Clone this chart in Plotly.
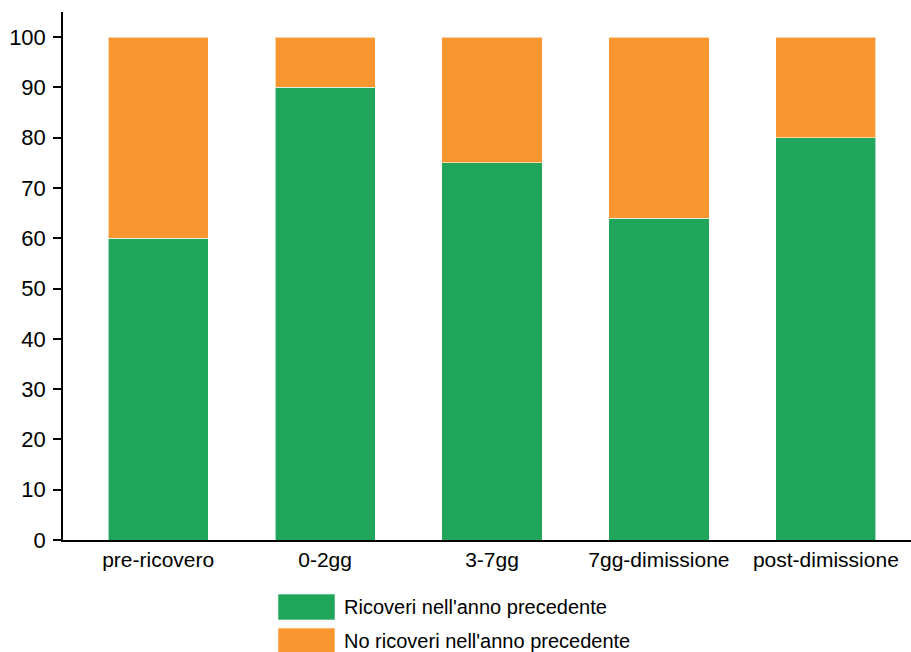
import plotly.graph_objects as go

categories = ["pre-ricovero", "0-2gg", "3-7gg", "7gg-dimissione", "post-dimissione"]
ricoveri = [60, 90, 75, 64, 80]
no_ricoveri = [40, 10, 25, 36, 20]
series_names = ["Ricoveri nell'anno precedente", "No ricoveri nell'anno precedente"]
colors = ["#1fa65a", "#f9962f"]
y_ticks = [0, 10, 20, 30, 40, 50, 60, 70, 80, 90, 100]

fig = go.Figure()

for name, vals, col in zip(series_names, [ricoveri, no_ricoveri], colors):
    fig.add_trace(
        go.Bar(
            x=categories,
            y=vals,
            name=name,
            width=0.6,
            marker_color=col,
            marker_line=dict(color="rgba(255,255,255,0.6)", width=1),
            showlegend=False,
        )
    )

# legend drawn by hand so the swatches are as big as in the original
for i, (name, col) in enumerate(zip(series_names, colors)):
    y0 = -0.1023 - i * 0.0644
    fig.add_shape(
        type="rect", xref="paper", yref="paper",
        x0=0.2535, x1=0.3208, y0=y0, y1=y0 - 0.0492,
        fillcolor=col, line=dict(color="rgba(255,255,255,0.6)", width=1),
    )
    fig.add_annotation(
        xref="paper", yref="paper", x=0.329, y=y0 - 0.0246,
        text=name, showarrow=False, xanchor="left", yanchor="middle",
        font=dict(size=20, color="#000000"),
    )

fig.update_layout(
    barmode="stack",
    width=911,
    height=652,
    margin=dict(l=63, r=0, t=12, b=112),
    plot_bgcolor="white",
    paper_bgcolor="white",
    font=dict(family="Liberation Sans, Arial, sans-serif", color="#000000"),
)
fig.update_xaxes(
    range=[-0.57, 4.51],
    showline=True, linecolor="black", linewidth=1.5,
    ticks="", tickfont=dict(size=21), showgrid=False,
)
fig.update_yaxes(
    range=[0, 105],
    tickvals=y_ticks,
    showline=True, linecolor="black", linewidth=1.5,
    ticks="outside", ticklen=8, tickwidth=1.5, tickcolor="black",
    tickfont=dict(size=22), ticklabelstandoff=3,
    showgrid=False, zeroline=False,
)

fig.write_html(
    "out.html",
    config={"displayModeBar": False},
    post_script="document.body.style.margin='0';",
)
